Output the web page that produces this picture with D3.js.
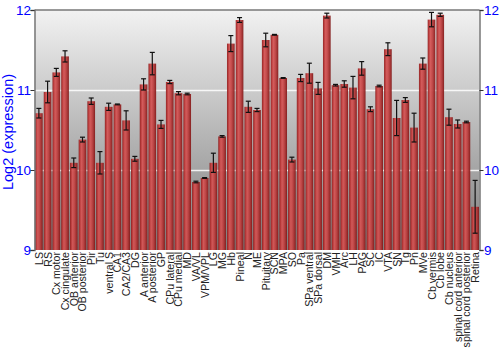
<!DOCTYPE html>
<html><head><meta charset="utf-8">
<script src="https://cdn.jsdelivr.net/npm/d3@7"></script>
<style>body{margin:0;background:#fff}svg{display:block}</style>
</head><body><svg id="c" width="500" height="350"></svg>
<script>
const categories = ["LS","RS","Cx motor","Cx cingulate","OB anterior","OB posterior","Pir","Tu","ventral S","CA1","CA2/CA3","DG","A anterior","A posterior","GP","CPu lateral","CPu medial","MD","VA/VL","VPM/VPL","LG","MG","Hb","Pineal","N","ME","Pituitary","SCN","MPA","SO","Pa","SPa ventral","SPa dorsal","DM","VMH","Arc","LH","PAG","SC","IC","VTA","SN","Tg","Pn","MVe","Cb vermis","Cb lobe","Cb nucleus","spinal cord anterior","spinal cord posterior","Retina"];
const values = [10.71,10.975,11.22,11.42,10.09,10.38,10.86,10.09,10.79,10.82,10.62,10.14,11.07,11.33,10.57,11.10,10.96,10.95,9.85,9.90,10.09,10.42,11.58,11.875,10.79,10.75,11.625,11.69,11.15,10.13,11.15,11.21,11.02,11.93,11.06,11.075,11.03,11.27,10.76,11.05,11.51,10.65,10.875,10.53,11.33,11.88,11.94,10.66,10.575,10.60,9.54];
const errors = [0.06,0.135,0.05,0.07,0.06,0.03,0.04,0.14,0.045,0.005,0.12,0.03,0.07,0.14,0.05,0.02,0.02,0.01,0.01,0.005,0.12,0.01,0.1,0.03,0.07,0.02,0.085,0.005,0.005,0.03,0.045,0.125,0.075,0.03,0.01,0.04,0.14,0.085,0.03,0.01,0.08,0.22,0.03,0.18,0.07,0.09,0.02,0.1,0.05,0.01,0.33];
const yTicks = [9,10,11,12];

const svg = d3.select("#c");
const m = {l:34.5, r:479.5, t:10, b:250};
const x = d3.scaleBand().domain(categories).range([m.l, m.r]).paddingInner(0.12).paddingOuter(0.06);
const y = d3.scaleLinear().domain([9,12]).range([m.b, m.t]);

const defs = svg.append("defs");
const bg = defs.append("linearGradient").attr("id","bg").attr("x1",0).attr("y1",0).attr("x2",0).attr("y2",1);
bg.append("stop").attr("offset","0%").attr("stop-color","#f2f2f2");
bg.append("stop").attr("offset","100%").attr("stop-color","#7e7e7e");
const bar = defs.append("linearGradient").attr("id","bar").attr("x1",0).attr("y1",0).attr("x2",1).attr("y2",0);
[["0%","#8a1c1c"],["15%","#b83434"],["35%","#d45656"],["60%","#c24444"],["85%","#9e2a2a"],["100%","#7e1616"]].forEach(s=>bar.append("stop").attr("offset",s[0]).attr("stop-color",s[1]));

svg.append("rect").attr("x",m.l).attr("y",m.t).attr("width",m.r-m.l).attr("height",m.b-m.t).attr("fill","url(#bg)");

svg.append("g").selectAll("line").data(yTicks.filter(t=>t>9&&t<12)).join("line")
  .attr("x1",m.l).attr("x2",m.r).attr("y1",d=>Math.round(y(d))+0.5).attr("y2",d=>Math.round(y(d))+0.5)
  .attr("stroke","#fff").attr("stroke-width",1.5).attr("opacity",0.85);

svg.append("g").selectAll("rect").data(categories).join("rect")
  .attr("x",d=>x(d)).attr("width",x.bandwidth())
  .attr("y",(d,i)=>y(values[i])).attr("height",(d,i)=>y(9)-y(values[i]))
  .attr("fill","url(#bar)").attr("opacity",0.95);

const eg = svg.append("g").attr("stroke","#111").attr("stroke-width",1.2);
categories.forEach((c,i)=>{
  const cx = x(c)+x.bandwidth()/2;
  const y1 = y(values[i]+errors[i]), y2 = y(Math.max(9,values[i]-errors[i]));
  eg.append("line").attr("x1",cx).attr("x2",cx).attr("y1",y1).attr("y2",y2);
  eg.append("line").attr("x1",cx-2.5).attr("x2",cx+2.5).attr("y1",y1).attr("y2",y1);
  eg.append("line").attr("x1",cx-2.5).attr("x2",cx+2.5).attr("y1",y2).attr("y2",y2);
});

// frame
svg.append("line").attr("x1",m.l).attr("x2",m.r).attr("y1",m.t).attr("y2",m.t).attr("stroke","#777").attr("stroke-width",1.5);
const la = svg.append("g").attr("transform",`translate(${m.l},0)`).call(d3.axisLeft(y).tickValues(yTicks).tickSize(4).tickFormat(d3.format("d")));
const ra = svg.append("g").attr("transform",`translate(${m.r},0)`).call(d3.axisRight(y).tickValues(yTicks).tickSize(4).tickFormat(d3.format("d")));
[la,ra].forEach(a=>{
  a.select(".domain").attr("stroke","#777").attr("stroke-width",1.5);
  a.selectAll(".tick line").attr("stroke","#333");
  a.selectAll("text").attr("fill","#0000ff").attr("font-family","Liberation Sans, Arial, sans-serif").attr("font-size",13.5);
});
la.selectAll("text").attr("x",-3.5);
ra.selectAll("text").attr("x",4.5);

svg.append("g").selectAll("text").data(categories).join("text")
  .attr("transform",d=>`translate(${x(d)+x.bandwidth()/2+4},252) rotate(-90)`)
  .attr("text-anchor","end").attr("font-family","Liberation Sans, Arial, sans-serif")
  .attr("font-size",10.6).attr("fill","#222").text(d=>d);

svg.append("text").attr("transform",`translate(13,132) rotate(-90)`).attr("text-anchor","middle")
  .attr("font-family","Liberation Sans, Arial, sans-serif").attr("font-size",14.5).attr("fill","#0000ff")
  .text("Log2 (expression)");
</script></body></html>
